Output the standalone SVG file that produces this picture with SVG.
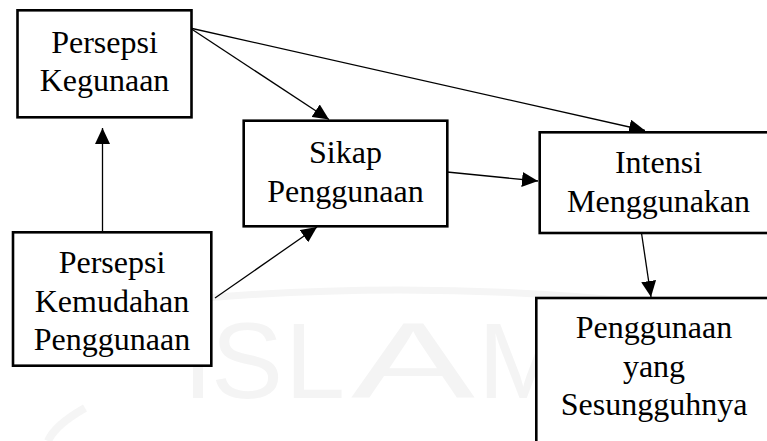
<svg xmlns="http://www.w3.org/2000/svg" width="767" height="441" viewBox="0 0 767 441">
<style>
.box{fill:#ffffff;stroke:#000000;stroke-width:2.6}
.lbl{font-family:'Liberation Serif','Times New Roman',serif;font-size:32px;fill:#000000;text-anchor:middle}
.edge{stroke:#000000;stroke-width:1.3;fill:none;marker-end:url(#ah)}
.wm{font-family:'Liberation Sans',Arial,sans-serif;font-size:108px;fill:#f4f4f4}
</style>
<defs>
<marker id="ah" markerUnits="userSpaceOnUse" markerWidth="16" markerHeight="15" refX="16" refY="7.5" orient="auto">
<path d="M0,0 L16,7.5 L0,15 Z" fill="#000000"/>
</marker>
</defs>
<rect width="767" height="441" fill="#ffffff"/>
<g id="watermark">
<path d="M205,298 Q420,280 640,302" stroke="#f5f5f5" stroke-width="7" fill="none"/>
<path d="M85,408 Q55,425 48,441" stroke="#f5f5f5" stroke-width="8" fill="none"/>
<text class="wm" x="183" y="398">I</text>
<text class="wm" x="211" y="398">S</text>
<text class="wm" x="285" y="398">L</text>
<text class="wm" transform="translate(351,398) scale(1.72,1)" x="0" y="0">A</text>
<text class="wm" x="478" y="398">M</text>
</g>
<g id="connectors">
<line class="edge" x1="190" y1="28" x2="329" y2="119.5"/>
<line class="edge" x1="190" y1="28" x2="645" y2="130.5"/>
<line class="edge" x1="102.5" y1="231" x2="102.5" y2="128"/>
<line class="edge" x1="215" y1="298" x2="317" y2="227"/>
<line class="edge" x1="447" y1="172" x2="538" y2="181"/>
<line class="edge" x1="641.5" y1="233" x2="651" y2="297"/>
</g>
<g id="node-persepsi-kegunaan">
<rect class="box" x="17.5" y="10.3" width="174" height="107"/>
<text class="lbl" x="104.5" y="53">Persepsi</text>
<text class="lbl" x="104.5" y="91">Kegunaan</text>
</g>
<g id="node-sikap-penggunaan">
<rect class="box" x="243.7" y="120.7" width="203.6" height="105.6"/>
<text class="lbl" x="345.5" y="163">Sikap</text>
<text class="lbl" x="345.5" y="201.5">Penggunaan</text>
</g>
<g id="node-intensi-menggunakan">
<rect class="box" x="539.7" y="132.3" width="240" height="100.7"/>
<text class="lbl" x="658.5" y="173">Intensi</text>
<text class="lbl" x="658.5" y="211.5">Menggunakan</text>
</g>
<g id="node-persepsi-kemudahan">
<rect class="box" x="13" y="232.3" width="198.3" height="133.4"/>
<text class="lbl" x="112" y="273">Persepsi</text>
<text class="lbl" x="112" y="311.5">Kemudahan</text>
<text class="lbl" x="112" y="350">Penggunaan</text>
</g>
<g id="node-penggunaan-sesungguhnya">
<rect class="box" x="536.3" y="298" width="250" height="160"/>
<text class="lbl" x="654" y="338">Penggunaan</text>
<text class="lbl" x="654" y="376.5">yang</text>
<text class="lbl" x="654" y="415">Sesungguhnya</text>
</g>
</svg>
